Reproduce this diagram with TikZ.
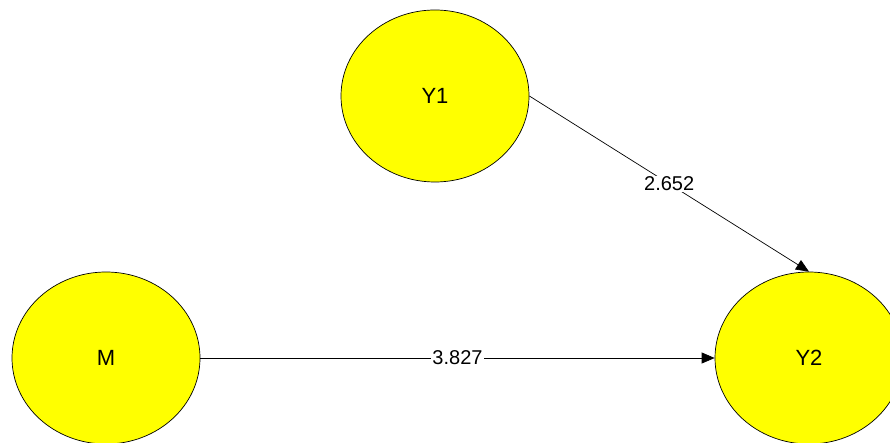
\documentclass[tikz,border=0pt]{standalone}
\usepackage{fontspec}
\setmainfont{Liberation Sans}
\usetikzlibrary{arrows.meta,shapes.geometric}
\definecolor{ylw}{RGB}{255,255,0}
\begin{document}
\begin{tikzpicture}[x=1pt,y=-1pt,
  latent/.style={ellipse,draw=black,line width=0.7pt,fill=ylw,minimum width=188pt,minimum height=172pt,inner sep=0pt,font=\fontsize{22}{24}\selectfont},
  path/.style={draw=black,line width=0.7pt,-{Triangle[length=13pt,width=11pt]}},
  lbl/.style={fill=white,inner sep=1pt,font=\fontsize{20}{22}\selectfont}]
\useasboundingbox (0,0) rectangle (890,443);
\node[latent] (Y1) at (435,96) {Y1};
\node[latent] (M) at (106,358) {M};
\node[latent] (Y2) at (809,358) {Y2};
\draw[path] (Y1.east) -- node[lbl] {2.652} (Y2.north);
\draw[path] (M.east) -- node[lbl] {3.827} (Y2.west);
\end{tikzpicture}
\end{document}
